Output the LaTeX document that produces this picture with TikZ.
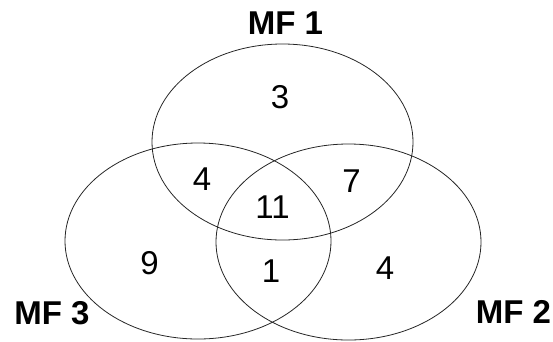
\documentclass[tikz,border=0pt]{standalone}
\usepackage{fontspec}
\setmainfont{Liberation Sans}
\usepackage{tikz}
\usetikzlibrary{positioning, calc}

\begin{document}
\begin{tikzpicture}[
	x=1pt, y=-1pt,
	set/.style={draw=black!85, line width=0.8pt},
	setname/.style={font=\fontsize{33}{33}\selectfont\bfseries, inner sep=0pt},
	count/.style={font=\fontsize{33}{33}\selectfont, inner sep=0pt}
	]
	
	\useasboundingbox (0,0) rectangle (553,341);
	
	% --- CENTRES OF THE THREE SETS ---
	\coordinate (C1) at (282.5, 142);
	\coordinate (C2) at (348.5, 242);
	\coordinate (C3) at (198, 241);
	
	% Ellipses
	\draw[set] (C1) ellipse [x radius=130.5, y radius=98];
	\draw[set] (C2) ellipse [x radius=132.5, y radius=98];
	\draw[set] (C3) ellipse [x radius=133, y radius=98];
	
	% --- SET NAMES ---
	\node[setname] (mf1) at (285.5, 23.5) {MF 1};
	\node[setname] (mf2) at (513.5, 311.5) {MF 2};
	\node[setname] (mf3) at (52, 313) {MF 3};
	
	% --- COUNTS ---
	\node[count] (only1) at (280, 97) {3};
	\node[count] (n13) at (202, 179) {4};
	\node[count] (n12) at (351.5, 181) {7};
	\node[count] (n123) at (272.5, 207.5) {11};
	\node[count] (only3) at (149.5, 263.5) {9};
	\node[count] (n23) at (271, 271) {1};
	\node[count] (only2) at (385, 268) {4};
	
\end{tikzpicture}
\end{document}
